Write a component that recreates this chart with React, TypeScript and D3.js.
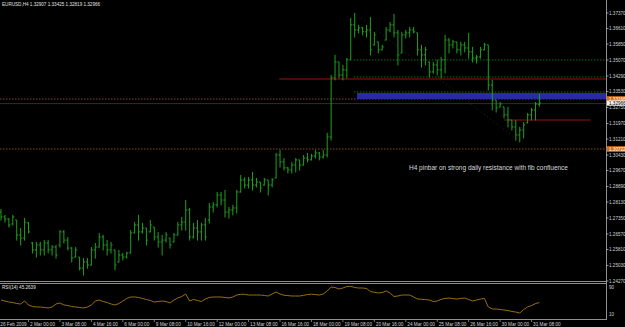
import React, { useEffect } from "react";
import * as d3 from "d3";

const W = 625;
const H = 327;

const opens = [
  1.2764, 1.274, 1.273, 1.2706, 1.2725, 1.2652, 1.2637, 1.2711, 1.2613, 1.2579,
  1.2603, 1.2579, 1.2613, 1.2579, 1.2593, 1.2603, 1.2667, 1.2627, 1.2588, 1.2544,
  1.2544, 1.249, 1.252, 1.2505, 1.2579, 1.2593, 1.2642, 1.2603, 1.2579, 1.2579,
  1.252, 1.2554, 1.2544, 1.2564, 1.2662, 1.2701, 1.2667, 1.2686, 1.2667, 1.2691,
  1.2642, 1.2618, 1.2627, 1.2637, 1.2618, 1.2652, 1.2701, 1.2715, 1.2774, 1.2642,
  1.2686, 1.2667, 1.2701, 1.2725, 1.2789, 1.2799, 1.2847, 1.2823, 1.2764, 1.2774,
  1.2784, 1.2862, 1.2921, 1.2896, 1.2921, 1.2896, 1.2911, 1.2896, 1.2921, 1.2896,
  1.2931, 1.3043, 1.3009, 1.298, 1.297, 1.2994, 1.3019, 1.2994, 1.3028, 1.3019,
  1.3038, 1.3053, 1.3033, 1.3043, 1.3131, 1.342, 1.3498, 1.3434, 1.3459, 1.3508,
  1.3679, 1.3654, 1.3664, 1.3645, 1.3654, 1.3581, 1.3596, 1.3557, 1.3605, 1.3654,
  1.3679, 1.364, 1.3542, 1.363, 1.364, 1.3654, 1.364, 1.3557, 1.3532, 1.3498,
  1.3449, 1.3483, 1.3459, 1.3508, 1.3605, 1.3581, 1.3596, 1.3557, 1.3581, 1.3566,
  1.3547, 1.3517, 1.3522, 1.3557, 1.3581, 1.3385, 1.3312, 1.3278, 1.3278, 1.3239,
  1.3214, 1.318, 1.3141, 1.3165, 1.32, 1.3239, 1.3263, 1.32907,
];
const highs = [
  1.2779, 1.275, 1.2735, 1.275, 1.2725, 1.2686, 1.2735, 1.2715, 1.2618, 1.2618,
  1.2618, 1.2627, 1.2627, 1.2603, 1.2603, 1.2676, 1.2676, 1.2642, 1.2593, 1.2593,
  1.2544, 1.2539, 1.2539, 1.2593, 1.2613, 1.2662, 1.2652, 1.2627, 1.2618, 1.2579,
  1.2579, 1.2564, 1.2569, 1.2676, 1.2715, 1.275, 1.2711, 1.2686, 1.2725, 1.2691,
  1.2666, 1.2652, 1.2666, 1.2637, 1.2662, 1.2715, 1.274, 1.2823, 1.2784, 1.2711,
  1.2725, 1.2711, 1.2735, 1.2808, 1.2813, 1.2862, 1.2862, 1.2872, 1.2789, 1.2799,
  1.2872, 1.2945, 1.2935, 1.2935, 1.296, 1.2931, 1.2911, 1.2931, 1.2921, 1.2931,
  1.3053, 1.3068, 1.3028, 1.2984, 1.3009, 1.3028, 1.3019, 1.3043, 1.3053, 1.3048,
  1.3068, 1.3058, 1.3068, 1.3151, 1.3434, 1.3532, 1.3498, 1.3483, 1.3517, 1.3713,
  1.3737, 1.3679, 1.3669, 1.3679, 1.3718, 1.3645, 1.3596, 1.3581, 1.3669, 1.3693,
  1.3733, 1.3654, 1.3645, 1.3654, 1.3669, 1.3669, 1.364, 1.3581, 1.3571, 1.3498,
  1.3498, 1.3508, 1.3522, 1.363, 1.3615, 1.3605, 1.3596, 1.3596, 1.3596, 1.364,
  1.3571, 1.3532, 1.3571, 1.3591, 1.3581, 1.341, 1.3312, 1.3302, 1.3278, 1.3278,
  1.3214, 1.3214, 1.318, 1.3204, 1.3248, 1.3273, 1.3302, 1.33425,
];
const lows = [
  1.2725, 1.2715, 1.2691, 1.2701, 1.2627, 1.2603, 1.2627, 1.2662, 1.2564, 1.2544,
  1.2554, 1.2554, 1.2564, 1.2554, 1.2539, 1.2593, 1.2613, 1.2579, 1.252, 1.2544,
  1.2481, 1.2456, 1.249, 1.2505, 1.2539, 1.2593, 1.2579, 1.2554, 1.2564, 1.2481,
  1.252, 1.253, 1.2539, 1.2564, 1.2662, 1.2627, 1.2662, 1.2603, 1.2667, 1.2627,
  1.2593, 1.2554, 1.2618, 1.2588, 1.2618, 1.2652, 1.2676, 1.2676, 1.2627, 1.2637,
  1.2627, 1.2627, 1.2627, 1.2711, 1.2764, 1.2789, 1.2799, 1.274, 1.2735, 1.275,
  1.2759, 1.2862, 1.2882, 1.2882, 1.2872, 1.2887, 1.2862, 1.2896, 1.2847, 1.2887,
  1.2931, 1.2984, 1.297, 1.2955, 1.2955, 1.296, 1.297, 1.2994, 1.3009, 1.3019,
  1.3028, 1.3019, 1.3028, 1.3033, 1.3116, 1.341, 1.342, 1.341, 1.342, 1.3508,
  1.362, 1.364, 1.363, 1.362, 1.3532, 1.3581, 1.3542, 1.3557, 1.3605, 1.3645,
  1.362, 1.3483, 1.3542, 1.3615, 1.362, 1.364, 1.3532, 1.3473, 1.3483, 1.3424,
  1.3444, 1.3434, 1.342, 1.3444, 1.3542, 1.3566, 1.3542, 1.3532, 1.3547, 1.3517,
  1.3498, 1.3493, 1.3517, 1.3557, 1.3361, 1.3263, 1.3253, 1.3278, 1.3224, 1.318,
  1.3165, 1.3116, 1.3107, 1.3126, 1.32, 1.3214, 1.3214, 1.32819,
];
const closes = [
  1.274, 1.273, 1.2701, 1.274, 1.2652, 1.2637, 1.2715, 1.2667, 1.2579, 1.2603,
  1.2579, 1.2613, 1.2579, 1.2593, 1.2554, 1.2667, 1.2627, 1.2588, 1.2539, 1.2579,
  1.249, 1.252, 1.2505, 1.2579, 1.2593, 1.2642, 1.2603, 1.2579, 1.2603, 1.2505,
  1.2554, 1.2544, 1.2564, 1.2662, 1.2701, 1.2667, 1.2686, 1.2627, 1.2701, 1.2642,
  1.2618, 1.2627, 1.2652, 1.2603, 1.2652, 1.2701, 1.2715, 1.2774, 1.2642, 1.2686,
  1.2667, 1.2701, 1.2642, 1.2789, 1.2799, 1.2847, 1.2823, 1.2764, 1.2774, 1.2784,
  1.2862, 1.2921, 1.2896, 1.2921, 1.2896, 1.2911, 1.2882, 1.2921, 1.2896, 1.2921,
  1.3043, 1.3009, 1.298, 1.297, 1.2994, 1.3019, 1.2994, 1.3028, 1.3019, 1.3038,
  1.3053, 1.3033, 1.3043, 1.3131, 1.342, 1.3498, 1.3434, 1.3459, 1.3508, 1.3679,
  1.3654, 1.3664, 1.3645, 1.3654, 1.3557, 1.363, 1.3557, 1.3571, 1.3654, 1.3679,
  1.364, 1.3532, 1.363, 1.364, 1.3654, 1.3645, 1.3557, 1.3532, 1.3557, 1.3449,
  1.3483, 1.3459, 1.3508, 1.3605, 1.3581, 1.3596, 1.3557, 1.3581, 1.3566, 1.3547,
  1.3517, 1.3522, 1.3557, 1.3581, 1.3385, 1.3312, 1.3273, 1.3292, 1.3239, 1.3214,
  1.318, 1.3141, 1.3165, 1.319, 1.3239, 1.3263, 1.3292, 1.32966,
];
const rsiValues = [
  52.9, 50, 47, 45.6, 42.6, 41.2, 50, 38.2, 33.8, 32.4,
  32.4, 30.9, 29.4, 32.4, 41.2, 44.1, 38.2, 36.8, 33.8, 32.4,
  30.9, 29.4, 32.4, 38.2, 50, 52.9, 48.5, 45.6, 41.2, 38.2,
  42.6, 50, 57.4, 61.8, 61.8, 60.3, 57.4, 54.4, 51.5, 47,
  48.5, 50, 48.5, 44.1, 52.9, 58.8, 63.2, 70.6, 50, 54.4,
  51.5, 48.5, 55.9, 60.3, 61.8, 61.8, 61.8, 60.3, 58.8, 61.8,
  67.6, 69.7, 69.7, 67.6, 67.6, 67.6, 67.6, 66.2, 64.7, 70.6,
  76.5, 70.6, 67, 65.9, 64.7, 64.7, 64.7, 66.8, 69.1, 70,
  68.8, 67.6, 70.6, 79.4, 91.2, 89.7, 85.3, 88.2, 92.6, 93.2,
  89.7, 88.2, 88.2, 86.8, 77.9, 75.6, 73.5, 75, 79.4, 73.5,
  63.2, 64.7, 67.6, 67.6, 67.6, 61.8, 55.9, 55, 54.1, 52.9,
  48.5, 50, 55, 57.4, 58.8, 57, 55.9, 57.4, 58.8, 54.4,
  50, 52.9, 55.9, 57.4, 32.4, 26.5, 26.5, 25, 23.5, 22.1,
  19.1, 17.6, 14.7, 25, 32.4, 36.8, 42.6, 45.26,
];

const priceTicks = [
  1.3737, 1.3661, 1.3585, 1.3507, 1.3429, 1.3353, 1.3275, 1.3197, 1.3121,
  1.3043, 1.2967, 1.2889, 1.2813, 1.2735, 1.2657, 1.2581, 1.2503, 1.2427,
];
const timeIdx = [-1, 7, 15, 23, 31, 39, 47, 55, 63, 71, 79, 87, 95, 103, 111, 119, 127, 135];
const timeText = [
  "26 Feb 2009", "2 Mar 00:00", "3 Mar 08:00", "4 Mar 16:00", "6 Mar 00:00",
  "9 Mar 08:00", "10 Mar 16:00", "12 Mar 00:00", "13 Mar 08:00", "16 Mar 16:00",
  "18 Mar 00:00", "19 Mar 08:00", "20 Mar 16:00", "24 Mar 00:00", "25 Mar 08:00",
  "26 Mar 16:00", "30 Mar 00:00", "31 Mar 08:00",
];
const rsiLevels = [90, 10];

// horizontal objects: price, first bar, last bar (null = to the right edge)
const greenLevels = [1.35075, 1.34242, 1.33508];
const greenFrom = 89.8;
const redLevels = [1.34144, 1.3214];
const redFrom = [70.8, 128];
const redTo: (number | null)[] = [null, 150];
const orangeLevels = [1.33166, 1.30722];
const zoneTop = 1.3346;
const zoneBottom = 1.33166;
const zoneFrom = 90.6;
const bidPrice = 1.32966;
const fibFrom = 90;
const fibTo = 132;

const FONT = "'Liberation Sans', Arial, sans-serif";

export default function App() {
  useEffect(() => {
    document.body.style.margin = "0";
    document.body.style.background = "#000";
  }, []);

  const plotR = 606;
  const x = d3.scaleLinear().domain([0, 137]).range([1, 539.4]);
  const y = d3.scaleLinear().domain([1.2427, 1.3737]).range([281, 13]);
  const yr = d3.scaleLinear().domain([0, 100]).range([318, 284]);

  const barColor = "#1fa01f";
  const rsiLine = d3
    .line<number>()
    .x((_, i) => x(i))
    .y((d) => yr(d));

  return (
    <svg width={W} height={H} style={{ position: "absolute", left: 0, top: 0, background: "#000" }}>
      <rect x={0} y={0} width={W} height={H} fill="#000" />
      <defs>
        <clipPath id="main">
          <rect x={0} y={0} width={plotR} height={281} />
        </clipPath>
      </defs>

      <g clipPath="url(#main)">
        {orangeLevels.map((p, k) => (
          <line key={"o" + k} x1={0} x2={plotR} y1={y(p)} y2={y(p)} stroke="#b05a1e" strokeWidth={0.8} strokeDasharray="1.5,1.5" />
        ))}
        <line x1={0} x2={plotR} y1={y(bidPrice) + 0.5} y2={y(bidPrice) + 0.5} stroke="#2e2e2e" strokeWidth={1} />
        <rect x={x(zoneFrom)} y={y(zoneTop)} width={plotR - x(zoneFrom)} height={y(zoneBottom) - y(zoneTop)} fill="#2a2aa6" />
        {greenLevels.map((p, k) => (
          <line key={"g" + k} x1={x(greenFrom)} x2={plotR} y1={y(p)} y2={y(p)} stroke="#128a12" strokeWidth={0.8} strokeDasharray="1.5,1.5" />
        ))}
        {redLevels.map((p, k) => (
          <line key={"r" + k} x1={x(redFrom[k])} x2={redTo[k] == null ? plotR : x(redTo[k] as number)} y1={y(p)} y2={y(p)} stroke="#9a1010" strokeWidth={1.2} />
        ))}
        <line x1={x(fibFrom)} y1={y(highs[fibFrom])} x2={x(fibTo)} y2={y(lows[fibTo])} stroke="#333333" strokeWidth={0.7} strokeDasharray="1,3" />

        {highs.map((h, i) => {
          const cx = x(i);
          return (
            <g key={i} stroke={barColor} strokeWidth={1}>
              <line x1={cx} x2={cx} y1={y(h)} y2={y(lows[i]) + 0.5} />
              <line x1={cx - 1.5} x2={cx} y1={y(opens[i])} y2={y(opens[i])} />
              <line x1={cx} x2={cx + 1.5} y1={y(closes[i])} y2={y(closes[i])} />
            </g>
          );
        })}
      </g>

      <text x={409} y={170} fill="#d8d8d8" fontFamily={FONT} fontSize={6.5}>
        H4 pinbar on strong daily resistance with fib confluence
      </text>

      <text x={2} y={6} fill="#e0e0e0" fontFamily={FONT} fontSize={4.6}>
        EURUSD,H4  1.32907 1.33425 1.32819 1.32966
      </text>

      <line x1={plotR + 0.5} x2={plotR + 0.5} y1={0} y2={319} stroke="#909090" strokeWidth={1} />
      {priceTicks.map((p, k) => (
        <g key={"t" + k}>
          <line x1={plotR} x2={plotR + 2.5} y1={y(p)} y2={y(p)} stroke="#b0b0b0" strokeWidth={0.8} />
          <text x={609} y={y(p) + 1.7} fill="#d0d0d0" fontFamily={FONT} fontSize={4.6}>
            {p.toFixed(5)}
          </text>
        </g>
      ))}
      <rect x={607} y={y(orangeLevels[0]) - 2.8} width={18} height={5.6} fill="#d8701c" />
      <text x={609} y={y(orangeLevels[0]) + 1.7} fill="#fff" fontFamily={FONT} fontSize={4.6}>
        {orangeLevels[0].toFixed(5)}
      </text>
      <rect x={607} y={y(bidPrice) - 2.4} width={18} height={5} fill="#f0f0f0" />
      <text x={609} y={y(bidPrice) + 1.7} fill="#000" fontFamily={FONT} fontSize={4.6}>
        {bidPrice.toFixed(5)}
      </text>
      <rect x={607} y={y(orangeLevels[1]) - 2.8} width={18} height={5.6} fill="#d8701c" />
      <text x={609} y={y(orangeLevels[1]) + 1.7} fill="#fff" fontFamily={FONT} fontSize={4.6}>
        {orangeLevels[1].toFixed(5)}
      </text>

      <line x1={0} x2={plotR} y1={281.5} y2={281.5} stroke="#8c8c8c" strokeWidth={1} />
      <line x1={0} x2={plotR} y1={283.5} y2={283.5} stroke="#8c8c8c" strokeWidth={1} />
      <line x1={0} x2={plotR + 1} y1={319.5} y2={319.5} stroke="#909090" strokeWidth={1} />

      <path d={rsiLine(rsiValues) || ""} fill="none" stroke="#a87a12" strokeWidth={0.9} />
      <text x={2} y={288.5} fill="#e0e0e0" fontFamily={FONT} fontSize={4.6}>
        RSI(14) 45.2639
      </text>
      {rsiLevels.map((v, k) => (
        <text key={"l" + k} x={609} y={yr(v) + 1.7} fill="#d0d0d0" fontFamily={FONT} fontSize={4.6}>
          {v}
        </text>
      ))}

      {timeIdx.map((t, k) => (
        <g key={"x" + k}>
          <line x1={x(t)} x2={x(t)} y1={319} y2={322} stroke="#909090" strokeWidth={0.8} />
          <text x={Math.max(0.3, x(t) + 1.5)} y={325.5} fill="#d0d0d0" fontFamily={FONT} fontSize={4.7}>
            {timeText[k]}
          </text>
        </g>
      ))}
    </svg>
  );
}
